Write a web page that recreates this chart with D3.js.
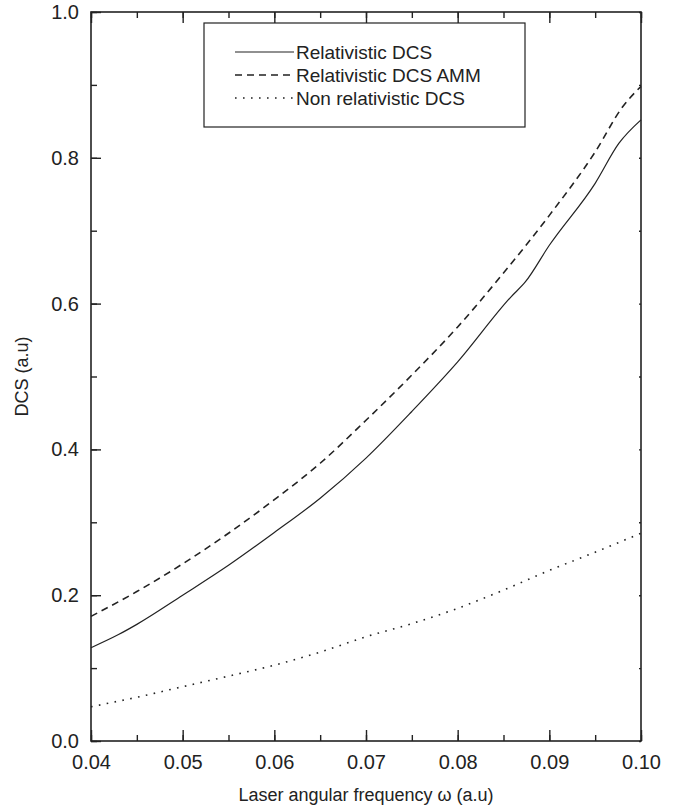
<!DOCTYPE html>
<html><head><meta charset="utf-8">
<script src="https://cdn.jsdelivr.net/npm/d3@7"></script>
<style>body{margin:0;background:#fff}svg text{font-family:"Liberation Sans",Arial,sans-serif;fill:#222}</style>
</head><body>
<svg id="c" width="689" height="811"></svg>
<script>
const relX = [0.040,0.043,0.045,0.050,0.055,0.060,0.065,0.070,0.075,0.080,0.0858,0.0874,0.090,0.095,0.0976,0.100];
const relY = [0.128,0.146,0.160,0.200,0.241,0.286,0.333,0.388,0.452,0.520,0.609,0.630,0.680,0.765,0.820,0.852];
const ammX = [0.040,0.045,0.050,0.055,0.060,0.065,0.070,0.075,0.080,0.085,0.090,0.095,0.098,0.100];
const ammY = [0.171,0.205,0.243,0.285,0.331,0.381,0.440,0.502,0.568,0.642,0.721,0.808,0.870,0.898];
const nrX = [0.040,0.045,0.050,0.055,0.060,0.065,0.070,0.075,0.080,0.085,0.090,0.095,0.100];
const nrY = [0.047,0.060,0.0745,0.089,0.104,0.122,0.143,0.161,0.182,0.207,0.234,0.259,0.285];
const xTicks = [0.04,0.05,0.06,0.07,0.08,0.09,0.10];
const yTicks = [0.0,0.2,0.4,0.6,0.8,1.0];
const seriesNames = ["Relativistic DCS","Relativistic DCS AMM","Non relativistic DCS"];

const L=91,R=641,T=12,B=741;
const svg=d3.select("#c");
const x=d3.scaleLinear().domain([0.04,0.10]).range([L,R]);
const y=d3.scaleLinear().domain([0,1]).range([B,T]);
const col="#222";

svg.append("rect").attr("x",L).attr("y",T).attr("width",R-L).attr("height",B-T)
  .attr("fill","none").attr("stroke",col).attr("stroke-width",1.6);

const xMinor=d3.range(0,13).map(i=>0.04+i*0.005);
const yMinor=d3.range(0,11).map(i=>i*0.1);

const gb=svg.append("g").attr("transform",`translate(0,${B})`)
  .call(d3.axisBottom(x).tickValues(xMinor).tickSize(-6).tickFormat(""));
gb.append("g").call(d3.axisBottom(x).tickValues(xTicks).tickSize(-11).tickPadding(14).tickFormat(d3.format(".2f")));
const gt=svg.append("g").attr("transform",`translate(0,${T})`)
  .call(d3.axisTop(x).tickValues(xMinor).tickSize(-6).tickFormat(""));
gt.append("g").call(d3.axisTop(x).tickValues(xTicks).tickSize(-11).tickFormat(""));
const gl=svg.append("g").attr("transform",`translate(${L},0)`)
  .call(d3.axisLeft(y).tickValues(yMinor).tickSize(-6).tickFormat(""));
gl.append("g").call(d3.axisLeft(y).tickValues(yTicks).tickSize(-10).tickPadding(12).tickFormat(d3.format(".1f")));
svg.append("g").attr("transform",`translate(${R},0)`)
  .call(d3.axisRight(y).tickValues(yMinor).tickSize(-2).tickFormat(""));

svg.selectAll(".domain").remove();
svg.selectAll(".tick line").attr("stroke",col).attr("stroke-width",1.4);
svg.selectAll(".tick text").attr("font-size",20).attr("fill",col);

const line=d3.line().x(d=>x(d[0])).y(d=>y(d[1])).curve(d3.curveMonotoneX);
const g=svg.append("g");
g.append("path").datum(relX.map((v,i)=>[v,relY[i]])).attr("d",line)
  .attr("fill","none").attr("stroke",col).attr("stroke-width",1.2);
g.append("path").datum(ammX.map((v,i)=>[v,ammY[i]])).attr("d",line)
  .attr("fill","none").attr("stroke",col).attr("stroke-width",1.6).attr("stroke-dasharray","7,5");
g.append("path").datum(nrX.map((v,i)=>[v,nrY[i]])).attr("d",line)
  .attr("fill","none").attr("stroke",col).attr("stroke-width",1.6).attr("stroke-dasharray","1.6,6.4");

const lg=svg.append("g");
lg.append("rect").attr("x",204).attr("y",23).attr("width",321).attr("height",104)
  .attr("fill","#fff").attr("stroke",col).attr("stroke-width",1.2);
const dashes=[null,"7,5","1.6,6.4"];
const widths=[1.2,1.6,1.6];
seriesNames.forEach((n,i)=>{
  const yy=52+i*23;
  lg.append("line").attr("x1",235).attr("x2",294).attr("y1",yy).attr("y2",yy)
    .attr("stroke",col).attr("stroke-width",widths[i]).attr("stroke-dasharray",dashes[i]);
  lg.append("text").attr("x",296).attr("y",yy+7).attr("font-size",19).text(n);
});

svg.append("text").attr("x",(L+R)/2).attr("y",801).attr("text-anchor","middle").attr("font-size",18)
  .text("Laser angular frequency ω (a.u)");
svg.append("text").attr("transform",`translate(28,${(T+B)/2}) rotate(-90)`).attr("text-anchor","middle")
  .attr("font-size",18).text("DCS (a.u)");
</script>
</body></html>
